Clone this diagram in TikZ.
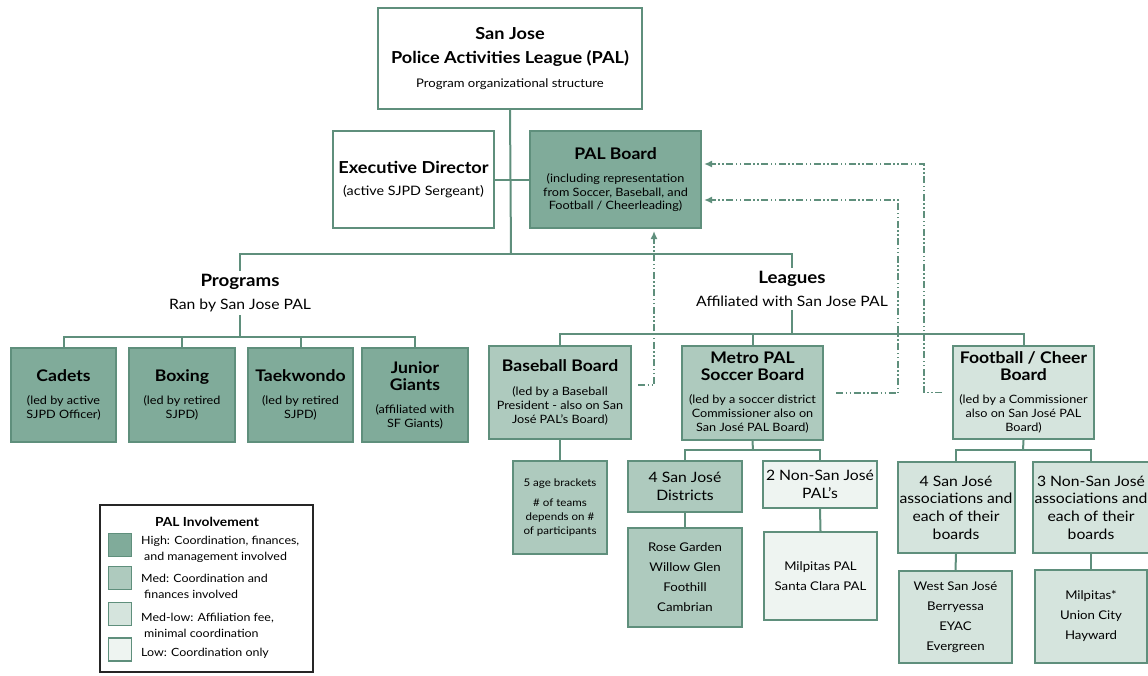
\documentclass[tikz,border=0pt]{standalone}
\usepackage{fontspec}
\setmainfont{Lato}[FakeStretch=1.1]
\usetikzlibrary{arrows.meta}
\definecolor{palline}{HTML}{5F8F7C}
\definecolor{palhigh}{HTML}{80AB9A}
\definecolor{palmed}{HTML}{AECABE}
\definecolor{palmedlow}{HTML}{D5E4DD}
\definecolor{pallow}{HTML}{EEF4F1}
\newcommand\boxtitle{\fontsize{16}{17}\selectfont\bfseries}
\newcommand\boxnote{\fontsize{11.5}{14}\selectfont}
\newcommand\boxbig{\fontsize{14.3}{17.7}\selectfont}
\newcommand\boxlist{\fontsize{12}{20}\selectfont}
\begin{document}
\begin{tikzpicture}[x=1pt, y=-1pt,
    box/.style={draw=palline, line width=2pt, align=center, inner sep=2pt, font=\boxnote},
    wire/.style={draw=palline, line width=2pt},
    feedback/.style={draw=palline, line width=1.6pt, dash pattern=on 7pt off 2.5pt on 1.5pt off 2.5pt on 1.5pt off 2.5pt, -{Latex[length=8pt,width=7pt]}, shorten >=2pt},
    grouplabel/.style={align=center, inner sep=3pt, font=\fontsize{14.3}{23}\selectfont}]
  \useasboundingbox (0,0) rectangle (1148,675);

  % top of the tree
  \node[box, fill=white, minimum width=264pt, minimum height=101pt, font=\fontsize{16.5}{24}\selectfont\bfseries] (top) at (510,58.5)
    {San Jose\\Police Activities League (PAL)\\{\mdseries\fontsize{11.9}{14}\selectfont Program organizational structure}};
  \node[box, fill=white, minimum width=161pt, minimum height=97pt, font=\fontsize{13}{22}\selectfont] (exec) at (413.5,179.5)
    {{\fontsize{16.5}{18}\selectfont\bfseries Executive Director}\\(active SJPD Sergeant)};
  \node[box, fill=palhigh, minimum width=171pt, minimum height=97pt, font=\fontsize{11.5}{13.5}\selectfont] (pal) at (615.5,179.5)
    {{\boxtitle PAL Board}\\[10pt](including representation\\from Soccer, Baseball, and\\Football / Cheerleading)};

  \coordinate (hub) at (511,254);
  \node[grouplabel] (prog) at (240,293) {{\fontsize{17}{18}\selectfont\bfseries Programs}\\Ran by San Jose PAL};
  \node[grouplabel] (lea) at (792,289) {{\fontsize{17}{18}\selectfont\bfseries Leagues}\\Affiliated with San Jose PAL};

  % programs
  \node[box, fill=palhigh, minimum width=105pt, minimum height=94pt] (cadets) at (63.5,395)
    {{\boxtitle Cadets}\\[9pt](led by active\\SJPD Officer)};
  \node[box, fill=palhigh, minimum width=106pt, minimum height=94pt] (boxing) at (182,395)
    {{\boxtitle Boxing}\\[9pt](led by retired\\SJPD)};
  \node[box, fill=palhigh, minimum width=105pt, minimum height=94pt] (tkd) at (300.5,395)
    {{\boxtitle Taekwondo}\\[9pt](led by retired\\SJPD)};
  \node[box, fill=palhigh, minimum width=106pt, minimum height=94pt] (giants) at (415,395)
    {{\boxtitle Junior}\\[3pt]{\boxtitle Giants}\\[9pt](affiliated with\\SF Giants)};
  \coordinate (pbus) at (240,337);

  % leagues
  \node[box, fill=palmed, minimum width=142pt, minimum height=93pt] (base) at (560,392.5)
    {{\boxtitle Baseball Board}\\[10pt](led by a Baseball\\President - also on San\\José PAL's Board)};
  \node[box, fill=palmed, minimum width=141pt, minimum height=94pt] (soc) at (752.5,393)
    {{\boxtitle Metro PAL}\\[3pt]{\boxtitle Soccer Board}\\[9pt](led by a soccer district\\Commissioner also on\\San José PAL Board)};
  \node[box, fill=palmedlow, minimum width=141pt, minimum height=93pt] (foot) at (1023.5,392.5)
    {{\boxtitle Football / Cheer}\\[3pt]{\boxtitle Board}\\[9pt](led by a Commissioner\\also on San José PAL\\Board)};
  \coordinate (lbus) at (792,334);

  % lower rows
  \node[box, fill=palmed, minimum width=94pt, minimum height=93pt, font=\fontsize{10.5}{14}\selectfont] (ages) at (560,507.5)
    {5 age brackets\\[6pt]\# of teams\\depends on \#\\of participants};
  \node[box, fill=palmed, minimum width=114pt, minimum height=51pt, font=\boxbig] (sjd) at (685,486.5)
    {4 San José\\Districts};
  \node[box, fill=pallow, minimum width=114pt, minimum height=47pt, font=\boxbig] (nsj) at (820,484.5)
    {2 Non-San José\\PAL's};
  \node[box, fill=palmed, minimum width=114pt, minimum height=99pt, font=\boxlist] (rose) at (685,577.5)
    {Rose Garden\\Willow Glen\\Foothill\\Cambrian};
  \node[box, fill=pallow, minimum width=113pt, minimum height=88pt, font=\boxlist] (milp) at (820.5,576)
    {Milpitas PAL\\Santa Clara PAL};
  \node[box, fill=palmedlow, minimum width=114pt, minimum height=91pt, font=\boxbig] (sja) at (956,507.5)
    {4 San José\\associations and\\each of their\\boards};
  \node[box, fill=palmedlow, minimum width=112pt, minimum height=91pt, font=\boxbig] (nsja) at (1091,507.5)
    {3 Non-San José\\associations and\\each of their\\boards};
  \node[box, fill=palmedlow, minimum width=113pt, minimum height=92pt, font=\boxlist] (wsj) at (955.5,617)
    {West San José\\Berryessa\\EYAC\\Evergreen};
  \node[box, fill=palmedlow, minimum width=112pt, minimum height=93pt, font=\boxlist] (milp2) at (1091,616.5)
    {Milpitas*\\Union City\\Hayward};
  \coordinate (sbus) at (753,450);
  \coordinate (fbus) at (1023,450);

  % tree lines
  \draw[wire] (top.south) -- (hub);
  \draw[wire] (exec.east) -- (pal.west);
  \draw[wire] (prog.north) |- (hub) -| (lea.north);
  \draw[wire] (prog.south) -- (pbus);
  \draw[wire] (cadets.north) |- (pbus) -| (giants.north);
  \draw[wire] (boxing.north) -- (boxing.north |- pbus);
  \draw[wire] (tkd.north) -- (tkd.north |- pbus);
  \draw[wire] (lea.south) -- (lbus);
  \draw[wire] (base.north) |- (lbus) -| (foot.north);
  \draw[wire] (soc.north) -- (soc.north |- lbus);
  \draw[wire] (base.south) -- (ages.north);
  \draw[wire] (soc.south) -- (sbus);
  \draw[wire] (sjd.north) |- (sbus) -| (nsj.north);
  \draw[wire] (sjd.south) -- (rose.north);
  \draw[wire] (nsj.south) -- (milp.north);
  \draw[wire] (foot.south) -- (fbus);
  \draw[wire] (sja.north) |- (fbus) -| (nsja.north);
  \draw[wire] (sja.south) -- (wsj.north);
  \draw[wire] (nsja.south) -- (milp2.north);

  % board seats
  \draw[feedback, shorten <=10pt] (foot.west) -- ++(-28,0) |- ([yshift=15.5pt]pal.east);
  \draw[feedback, shorten <=12pt] (soc.east) -- ++(74,0) |- ([yshift=-20.5pt]pal.east);
  \draw[feedback, shorten <=6pt] ([yshift=7.5pt]base.east) -- ++(22,0) coordinate (seat) -- (seat |- pal.south);

  % legend
  \node[draw=black!85, line width=1.5pt, minimum width=213pt, minimum height=167pt] (legend) at (206.5,588.5) {};
  \node[font=\fontsize{12.5}{14}\selectfont\bfseries] (legtitle) at (207,522) {PAL Involvement};
  \node[draw=palline, line width=1.2pt, fill=palhigh, minimum size=23pt] (sw1) at (120,545) {};
  \node[draw=palline, line width=1.2pt, fill=palmed, minimum size=23pt] (sw2) at (120,578) {};
  \node[draw=palline, line width=1.2pt, fill=palmedlow, minimum size=23pt] (sw3) at (120,614) {};
  \node[draw=palline, line width=1.2pt, fill=pallow, minimum size=23pt] (sw4) at (120,649.5) {};
  \node[anchor=west, align=left, inner sep=0pt, font=\fontsize{11.3}{16}\selectfont] (lt1) at (141,549) {High: Coordination, finances,\\\hspace{3pt}and management involved};
  \node[anchor=west, align=left, inner sep=0pt, font=\fontsize{11.3}{16}\selectfont] (lt2) at (141,586) {Med: Coordination and\\\hspace{3pt}finances involved};
  \node[anchor=west, align=left, inner sep=0pt, font=\fontsize{11.3}{16}\selectfont] (lt3) at (141,625) {Med-low: Affiliation fee,\\\hspace{3pt}minimal coordination};
  \node[anchor=west, align=left, inner sep=0pt, font=\fontsize{11.3}{16}\selectfont] (lt4) at (141,653) {Low: Coordination only};
\end{tikzpicture}
\end{document}
